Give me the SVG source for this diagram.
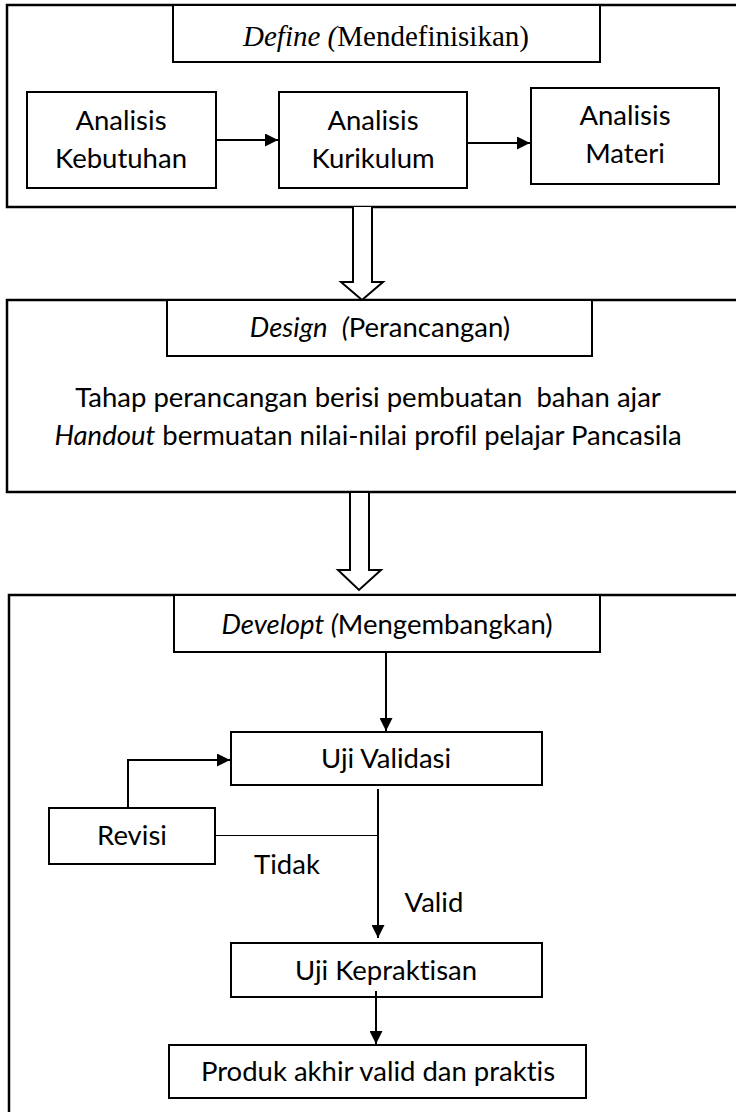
<svg xmlns="http://www.w3.org/2000/svg" width="736" height="1112" viewBox="0 0 736 1112">
<defs>
<style>
.outer{fill:none;stroke:#000;stroke-width:2.5}
.box{fill:#fff;stroke:#000;stroke-width:2}
.t{font-family:Lato,"Liberation Sans",sans-serif;font-size:27.5px;fill:#000;text-anchor:middle;font-variant-ligatures:none;white-space:pre}
.s{font-family:"Liberation Serif",serif;font-size:29px;fill:#000;text-anchor:middle}
.ln{fill:none;stroke:#000;stroke-width:2}
.thin{fill:none;stroke:#000;stroke-width:1}
.hollow{fill:#fff;stroke:#000;stroke-width:2;stroke-linejoin:miter}
</style>
<marker id="ah" viewBox="0 0 10 10" refX="10" refY="5" markerWidth="7" markerHeight="6.5" markerUnits="strokeWidth" orient="auto">
<path d="M0,0 L10,5 L0,10 z" fill="#000"/>
</marker>
</defs>
<g id="define-stage">
<rect class="outer" x="7" y="5" width="740" height="202"/>
<g id="define-title"><rect class="box" x="173" y="5" width="427" height="57"/>
<text class="s" x="386" y="46"><tspan font-style="italic">Define (</tspan>Mendefinisikan)</text></g>
<g id="analisis-kebutuhan"><rect class="box" x="27" y="92" width="189" height="96"/>
<text class="t" x="121" y="130">Analisis</text><text class="t" x="121" y="168">Kebutuhan</text></g>
<g id="analisis-kurikulum"><rect class="box" x="279" y="92" width="188" height="96"/>
<text class="t" x="373" y="130">Analisis</text><text class="t" x="373" y="168">Kurikulum</text></g>
<g id="analisis-materi"><rect class="box" x="531" y="88" width="188" height="96"/>
<text class="t" x="625" y="125">Analisis</text><text class="t" x="625" y="163">Materi</text></g>
</g>
<g id="design-stage">
<rect class="outer" x="7" y="300" width="740" height="192"/>
<g id="design-title"><rect class="box" x="167" y="300" width="425" height="56"/>
<text class="t" x="380" y="337" xml:space="preserve"><tspan font-style="italic">Design</tspan>  <tspan font-style="italic">(</tspan>Perancangan)</text></g>
<text class="t" x="368" y="407" xml:space="preserve">Tahap perancangan berisi pembuatan  bahan ajar</text>
<text class="t" x="368" y="445"><tspan font-style="italic">Handout</tspan> bermuatan nilai-nilai profil pelajar Pancasila</text>
</g>
<g id="develop-stage">
<rect class="outer" x="9" y="595" width="740" height="530"/>
<g id="develop-title"><rect class="box" x="174" y="595" width="426" height="57"/>
<text class="t" x="387" y="634"><tspan font-style="italic">Developt (</tspan>Mengembangkan)</text></g>
<g id="uji-validasi"><rect class="box" x="231" y="732" width="311" height="53"/>
<text class="t" x="386" y="768">Uji Validasi</text></g>
<g id="revisi"><rect class="box" x="49" y="808" width="166" height="56"/>
<text class="t" x="132" y="845">Revisi</text></g>
<g id="uji-kepraktisan"><rect class="box" x="231" y="943" width="311" height="54"/>
<text class="t" x="386" y="980">Uji Kepraktisan</text></g>
<g id="produk-akhir"><rect class="box" x="169" y="1045" width="417" height="53"/>
<text class="t" x="378" y="1081">Produk akhir valid dan praktis</text></g>
<text class="t" x="287" y="874">Tidak</text>
<text class="t" x="434" y="912">Valid</text>
</g>
<g id="connectors">
<line class="ln" x1="216" y1="140" x2="278" y2="140" marker-end="url(#ah)"/>
<line class="ln" x1="467" y1="143" x2="530" y2="143" marker-end="url(#ah)"/>
<path class="hollow" d="M353,207 L353,282 L341,282 L362,300 L383,282 L372,282 L372,207"/>
<path class="hollow" d="M350,493 L350,570 L338,570 L359,590 L381,570 L369,570 L369,493"/>
<line class="ln" x1="386" y1="652" x2="386" y2="731" marker-end="url(#ah)"/>
<polyline class="ln" points="128,808 128,760 230,760" marker-end="url(#ah)"/>
<line class="thin" x1="215" y1="835.5" x2="378" y2="835.5"/>
<line class="ln" x1="378" y1="789" x2="378" y2="938" marker-end="url(#ah)"/>
<line class="ln" x1="376" y1="991" x2="376" y2="1044" marker-end="url(#ah)"/>
</g>
</svg>
